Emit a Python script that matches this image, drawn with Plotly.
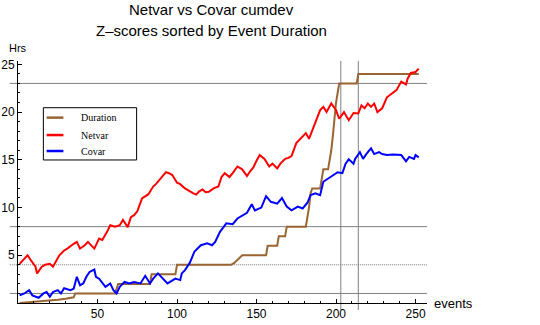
import plotly.graph_objects as go

# ---- data -------------------------------------------------------------
netvar_events = [1, 3, 6, 8, 11, 12, 15, 17, 20, 22, 23, 26, 29, 31, 35, 37, 39, 42, 44, 46,
                 48, 51, 53, 56, 58, 61, 64, 66, 69, 71, 73, 75, 78, 82, 85, 87, 89, 91, 93, 95,
                 97, 100, 102, 105, 108, 110, 112, 114, 116, 118, 120, 123, 126, 128, 130, 133,
                 135, 138, 141, 144, 146, 148, 150, 152, 155, 158, 160, 163, 165, 168, 170, 172,
                 175, 178, 181, 183, 185, 187, 190, 192, 194, 197, 200, 202, 205, 208, 211, 214,
                 216, 218, 220, 222, 224, 226, 229, 232, 235, 238, 241, 244, 245, 247, 250, 252]
netvar_values = [4.1, 4.5, 5.0, 4.5, 3.8, 3.1, 3.8, 4.0, 4.1, 3.8, 4.1, 5.0, 5.5, 5.7, 6.2, 6.4,
                 5.7, 6.05, 6.4, 6.05, 5.7, 6.75, 6.6, 7.45, 8.15, 8.0, 8.15, 8.7, 7.95, 9.0, 9.2,
                 9.6, 10.95, 11.4, 12.2, 12.5, 12.9, 13.2, 13.7, 13.6, 13.4, 12.6, 12.45, 12.0,
                 11.65, 11.5, 11.35, 11.7, 11.9, 11.6, 11.65, 12.0, 12.2, 13.2, 13.6, 13.2, 13.6,
                 14.3, 14.0, 13.3, 13.8, 14.2, 14.9, 15.5, 15.1, 14.3, 14.6, 14.1, 14.6, 15.1,
                 15.2, 15.4, 16.75, 17.3, 17.8, 17.2, 18.0, 18.8, 20.2, 20.55, 20.0, 20.9, 20.2,
                 19.3, 20.0, 19.15, 19.9, 19.85, 20.7, 20.4, 20.9, 20.55, 20.9, 20.0, 20.4, 21.55,
                 21.95, 22.3, 23.2, 22.9, 23.5, 24.1, 24.2, 24.55]

covar_events = [1, 4, 7, 9, 13, 16, 18, 20, 22, 25, 27, 29, 33, 35, 37, 39, 41, 43, 45, 48,
                49, 51, 55, 58, 60, 62, 64, 67, 70, 73, 77, 80, 83, 85, 88, 91, 94, 99, 102, 103,
                105, 108, 111, 115, 119, 122, 124, 127, 131, 135, 138, 144, 147, 149, 153, 156,
                159, 163, 166, 169, 172, 176, 179, 182, 184, 187, 190, 192, 195, 198, 201, 204,
                206, 208, 211, 212, 215, 217, 219, 222, 224, 227, 229, 232, 236, 241, 244, 246,
                249, 250, 252]
covar_values = [0.8, 1.0, 1.35, 0.8, 0.55, 1.0, 1.15, 0.65, 1.15, 1.35, 1.0, 1.55, 1.35, 1.5,
                2.75, 1.85, 2.05, 2.75, 3.25, 3.5, 2.75, 2.55, 1.7, 2.05, 1.35, 1.0, 1.7, 2.2,
                2.05, 2.2, 2.05, 2.85, 2.05, 2.55, 3.1, 2.55, 2.05, 2.55, 2.4, 3.1, 3.45, 4.2,
                5.4, 6.05, 6.25, 6.05, 6.4, 7.45, 8.35, 8.25, 8.85, 9.45, 10.35, 9.7, 10.0, 11.2,
                10.6, 10.4, 11.0, 10.1, 9.7, 10.1, 9.9, 10.5, 11.3, 11.5, 11.3, 12.7, 13.05,
                13.4, 13.7, 13.6, 14.6, 15.05, 14.6, 15.1, 15.8, 15.1, 15.6, 16.2, 15.6, 15.8,
                15.6, 15.5, 15.55, 15.5, 14.85, 15.3, 15.1, 15.5, 15.25]

duration_events = [1, 5, 10, 15, 20, 25, 30, 34, 35, 36, 61, 63, 83, 84, 99, 100, 134, 136,
                   138, 140, 141, 156, 157, 163, 164, 168, 169, 181, 182, 183, 184, 185, 190,
                   191, 192, 195, 196, 197, 198, 199, 200, 201, 202, 213, 214, 252]
duration_values = [0.0, 0.05, 0.1, 0.2, 0.25, 0.35, 0.45, 0.55, 0.6, 1.0, 1.0, 2.0, 2.0, 3.0,
                   3.0, 4.0, 4.0, 4.2, 4.5, 4.8, 5.0, 5.0, 6.0, 6.0, 7.0, 7.0, 8.0, 8.0, 9.0,
                   10.0, 11.5, 12.0, 12.0, 13.0, 14.0, 14.0, 15.0, 16.0, 17.5, 19.5, 21.0, 22.0,
                   23.0, 23.0, 24.0, 24.0]

hour_marks = [1, 4, 8, 23]          # horizontal reference lines (4 is dotted)
event_marks = [203, 214]            # vertical reference lines
x_ticks = [50, 100, 150, 200, 250]
y_ticks = [5, 10, 15, 20, 25]

series = [
    ("Duration", duration_events, duration_values, "#996633"),
    ("Netvar", netvar_events, netvar_values, "#ff0000"),
    ("Covar", covar_events, covar_values, "#0000ff"),
]

# ---- figure -----------------------------------------------------------
fig = go.Figure()
for name, xs, ys, color in series:
    fig.add_trace(go.Scatter(x=xs, y=ys, mode="lines", name=name,
                             line=dict(color=color, width=2), showlegend=False))

grid_color = "#808080"
for h in hour_marks:
    fig.add_shape(type="line", xref="paper", yref="y", x0=-0.02, x1=1, y0=h, y1=h,
                  line=dict(color=grid_color if h != 4 else "#777777", width=1,
                            dash="1px,1px" if h == 4 else "solid"),
                  layer="below")
for e in event_marks:
    fig.add_shape(type="line", xref="x", yref="paper", x0=e, x1=e, y0=-0.029, y1=1,
                  line=dict(color=grid_color, width=1), layer="below")

# legend box
fig.add_shape(type="rect", xref="paper", yref="paper", x0=0.062, x1=0.290, y0=0.591, y1=0.807,
              line=dict(color="black", width=1), fillcolor="white", layer="above")
row_y = [0.766, 0.694, 0.628]
for (name, _, _, color), ry in zip(series, row_y):
    fig.add_shape(type="line", xref="paper", yref="paper", x0=0.070, x1=0.111, y0=ry, y1=ry,
                  line=dict(color=color, width=2.5), layer="above")
    fig.add_annotation(xref="paper", yref="paper", x=0.150, y=ry, text=name, showarrow=False,
                       xanchor="left", yanchor="middle",
                       font=dict(family="Liberation Serif", size=10, color="black"))

title_font = dict(family="Liberation Sans", size=15, color="black")
fig.add_annotation(xref="paper", yref="paper", x=0.473, y=1.213, text="Netvar vs Covar cumdev",
                   showarrow=False, xanchor="center", yanchor="middle", font=title_font)
fig.add_annotation(xref="paper", yref="paper", x=0.473, y=1.124,
                   text="Z\u2013scores sorted by Event Duration",
                   showarrow=False, xanchor="center", yanchor="middle", font=title_font)
fig.add_annotation(xref="paper", yref="paper", x=0.001, y=1.054, text="Hrs", showarrow=False,
                   xanchor="center", yanchor="middle",
                   font=dict(family="Liberation Sans", size=11, color="black"))
fig.add_annotation(xref="paper", yref="paper", x=1.065, y=0.0, text="events", showarrow=False,
                   xanchor="center", yanchor="middle",
                   font=dict(family="Liberation Sans", size=13, color="black"))

tick_font = dict(family="Liberation Sans", size=12, color="black")
fig.update_xaxes(range=[0, 257.2], showgrid=False, zeroline=False, showline=True,
                 linecolor="black", linewidth=1, ticks="inside", ticklen=4, tickcolor="black",
                 tickmode="array", tickvals=x_ticks, tickfont=tick_font, automargin=False,
                 ticklabelstandoff=0,
                 minor=dict(tickmode="array", tickvals=list(range(0, 257, 10)), ticks="inside",
                            ticklen=2, tickcolor="black"))
fig.update_yaxes(range=[0, 25.35], showgrid=False, zeroline=False, showline=True,
                 linecolor="black", linewidth=1, ticks="inside", ticklen=4, tickcolor="black",
                 tickmode="array", tickvals=y_ticks, tickfont=tick_font, automargin=False,
                 minor=dict(tickmode="array", tickvals=list(range(0, 26)), ticks="inside",
                            ticklen=2, tickcolor="black"))

fig.update_layout(width=540, height=325, margin=dict(l=18, r=113, t=61, b=22),
                  plot_bgcolor="white", paper_bgcolor="white", showlegend=False)

fig.write_html("out.html")
